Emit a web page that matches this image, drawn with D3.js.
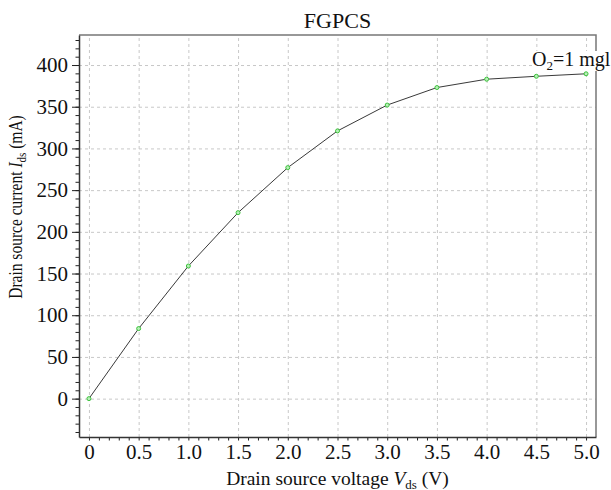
<!DOCTYPE html>
<html>
<head>
<meta charset="utf-8">
<script src="https://cdn.jsdelivr.net/npm/d3@7"></script>
<style>
  body { margin: 0; background: white; }
  text { font-family: "Liberation Serif", "Times New Roman", serif; }
</style>
</head>
<body>
<svg id="chart" width="611" height="490" viewBox="0 0 611 490"></svg>
<script>
// data
let vds = [0, 0.5, 1.0, 1.5, 2.0, 2.5, 3.0, 3.5, 4.0, 4.5, 5.0];
let ids = [0, 84, 159, 223, 277, 321, 352, 373, 383, 386.5, 389.5];
let xTicks = [0, 0.5, 1.0, 1.5, 2.0, 2.5, 3.0, 3.5, 4.0, 4.5, 5.0];
let yTicks = [0, 50, 100, 150, 200, 250, 300, 350, 400];
let title = "FGPCS";

let margins = {top: 35, right: 15, bottom: 53, left: 79};
let totalWidth = 611, totalHeight = 490;
let innerWidth = totalWidth - margins.left - margins.right;
let innerHeight = totalHeight - margins.top - margins.bottom;

let chart = d3.select("#chart");

let x = d3.scaleLinear([-0.1, 5.1], [0, innerWidth]);
let y = d3.scaleLinear([-46, 436], [innerHeight, 0]);

let g = chart.append("g")
    .attr("transform", `translate(${margins.left},${margins.top})`);

// grid
g.append("g")
    .call(d3.axisLeft(y).tickValues(yTicks).tickFormat("").tickSize(-innerWidth))
    .call(s => s.select(".domain").remove())
    .call(s => s.selectAll("text").remove())
    .selectAll("line")
    .attr("stroke", "#c8c8c8")
    .attr("stroke-dasharray", "3,3");

g.append("g")
    .attr("transform", `translate(0,${innerHeight})`)
    .call(d3.axisBottom(x).tickValues(xTicks).tickFormat("").tickSize(-innerHeight))
    .call(s => s.select(".domain").remove())
    .call(s => s.selectAll("text").remove())
    .selectAll("line")
    .attr("stroke", "#c8c8c8")
    .attr("stroke-dasharray", "3,3");

// top / right frame
g.append("path")
    .attr("d", `M0,0H${innerWidth}V${innerHeight}`)
    .attr("fill", "none")
    .attr("stroke", "#777")
    .attr("stroke-width", 1.5);

// minor ticks
let yMinor = d3.range(-40, 431, 10);
let xMinor = d3.range(0, 51, 1).map(d => d / 10);

g.append("g")
    .call(d3.axisLeft(y).tickValues(yMinor).tickFormat("").tickSize(3.5))
    .call(s => s.select(".domain").remove())
    .call(s => s.selectAll("text").remove())
    .selectAll("line").attr("stroke", "#222");

g.append("g")
    .attr("transform", `translate(0,${innerHeight})`)
    .call(d3.axisBottom(x).tickValues(xMinor).tickFormat("").tickSize(3.5))
    .call(s => s.select(".domain").remove())
    .call(s => s.selectAll("text").remove())
    .selectAll("line").attr("stroke", "#222");

// main axes
let yAxis = g.append("g")
    .call(d3.axisLeft(y).tickValues(yTicks).tickSize(7).tickPadding(4).tickSizeOuter(0));

let xAxis = g.append("g")
    .attr("transform", `translate(0,${innerHeight})`)
    .call(d3.axisBottom(x).tickValues(xTicks).tickSize(0).tickPadding(7).tickSizeOuter(0)
        .tickFormat(d => d === 0 ? "0" : d3.format(".1f")(d)));

[yAxis, xAxis].forEach(a => {
    a.attr("font-family", null).attr("font-size", null);
    a.selectAll("text")
        .style("font-family", "'Liberation Serif', serif")
        .style("font-size", "21px")
        .attr("fill", "#111");
    a.select(".domain").attr("stroke", "#333").attr("stroke-width", 1.5);
});
yAxis.selectAll(".tick line").attr("stroke", "#222");

// line + markers
let pts = vds.map((v, i) => [v, ids[i]]);
g.append("path")
    .datum(pts)
    .attr("d", d3.line().x(d => x(d[0])).y(d => y(d[1])))
    .attr("fill", "none")
    .attr("stroke", "#222")
    .attr("stroke-width", 0.9);

g.selectAll(".pt")
    .data(pts)
    .enter().append("circle")
    .attr("class", "pt")
    .attr("cx", d => x(d[0]))
    .attr("cy", d => y(d[1]))
    .attr("r", 2)
    .attr("fill", "#b8f0b8")
    .attr("stroke", "#3cc23c")
    .attr("stroke-width", 1);

// series label
let lblBg = chart.append("rect").attr("fill", "white");
let lbl = chart.append("text")
    .attr("x", 532)
    .attr("y", 66)
    .style("font-size", "20px")
    .attr("fill", "#111");
lbl.append("tspan").text("O");
lbl.append("tspan").text("2").style("font-size", "13px").attr("dy", 4);
lbl.append("tspan").text("=1 mgl").attr("dy", -4);
let bb = lbl.node().getBBox();
lblBg.attr("x", bb.x)
    .attr("y", bb.y + 3)
    .attr("width", bb.width + 2)
    .attr("height", bb.height - 5);

// title
chart.append("text")
    .attr("x", margins.left + innerWidth / 2)
    .attr("y", 28)
    .attr("text-anchor", "middle")
    .style("font-size", "22px")
    .attr("fill", "#111")
    .text(title);

// x axis title
let xt = chart.append("text")
    .attr("x", margins.left + innerWidth / 2)
    .attr("y", 485)
    .attr("text-anchor", "middle")
    .style("font-size", "19.5px")
    .attr("fill", "#111");
xt.append("tspan").text("Drain source voltage ");
xt.append("tspan").text("V").attr("font-style", "italic");
xt.append("tspan").text("ds").style("font-size", "13px").attr("dy", 4);
xt.append("tspan").text(" (V)").attr("dy", -4);

// y axis title
let yt = chart.append("text")
    .attr("transform", `translate(22,207) rotate(-90) scale(1,1.2)`)
    .attr("text-anchor", "middle")
    .style("font-size", "15.5px")
    .attr("fill", "#111");
yt.append("tspan").text("Drain source current ");
yt.append("tspan").text("I").attr("font-style", "italic");
yt.append("tspan").text("ds").style("font-size", "11px").attr("dy", 3);
yt.append("tspan").text(" (mA)").attr("dy", -3);
</script>
</body>
</html>
